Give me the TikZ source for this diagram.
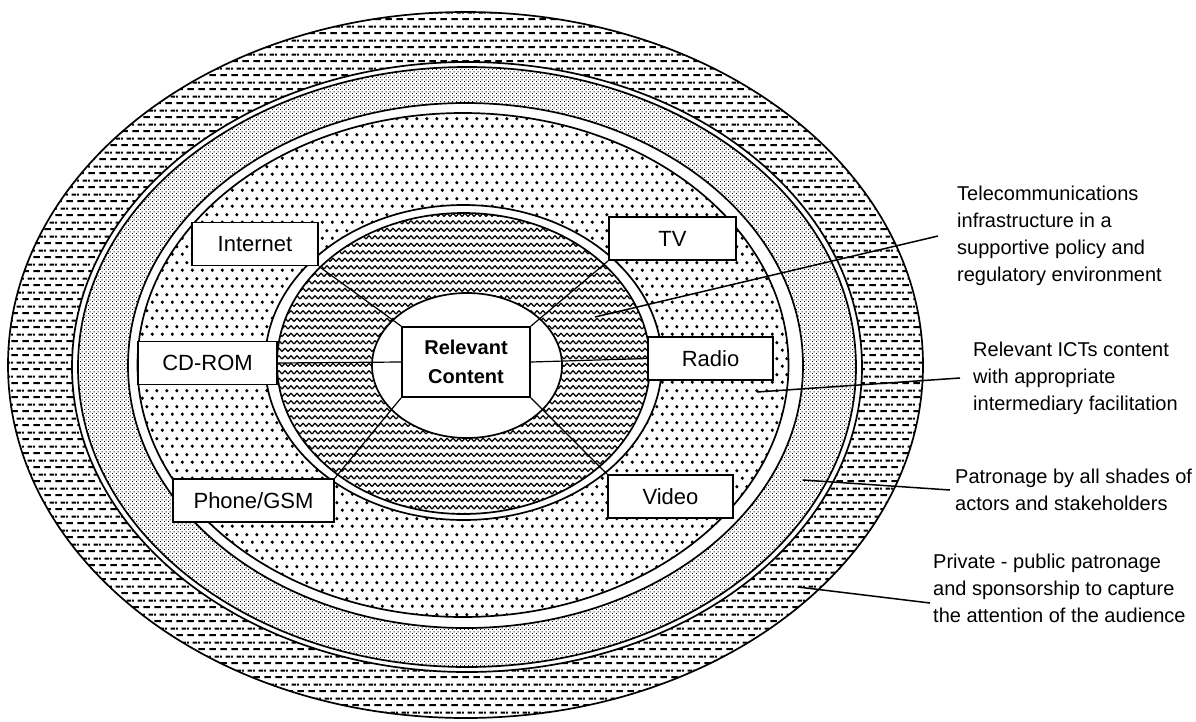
\documentclass[tikz,border=0pt]{standalone}
\usepackage{fontspec}
\setmainfont{Liberation Sans}
\usetikzlibrary{patterns}

\pgfdeclarepatternformonly{hdashpat}{\pgfqpoint{0pt}{0pt}}{\pgfqpoint{11pt}{14pt}}{\pgfqpoint{11pt}{14pt}}{%
  \pgfpathrectangle{\pgfqpoint{0.5pt}{2pt}}{\pgfqpoint{7pt}{2.2pt}}%
  \pgfpathrectangle{\pgfqpoint{6pt}{9pt}}{\pgfqpoint{5pt}{2.2pt}}%
  \pgfpathrectangle{\pgfqpoint{0pt}{9pt}}{\pgfqpoint{2pt}{2.2pt}}%
  \pgfusepath{fill}}

\pgfdeclarepatternformonly{wavepat}{\pgfqpoint{-0.7pt}{0pt}}{\pgfqpoint{6.7pt}{7.5pt}}{\pgfqpoint{6pt}{7.5pt}}{%
  \pgfsetlinewidth{1.25pt}\pgfsetroundjoin
  \pgfpathmoveto{\pgfqpoint{0pt}{2pt}}\pgfpathlineto{\pgfqpoint{3pt}{5.3pt}}\pgfpathlineto{\pgfqpoint{6pt}{2pt}}%
  \pgfusepath{stroke}}

\pgfdeclarepatternformonly{dotpat}{\pgfqpoint{0pt}{0pt}}{\pgfqpoint{10pt}{16pt}}{\pgfqpoint{10pt}{16pt}}{%
  \pgfpathcircle{\pgfqpoint{2.5pt}{4pt}}{1.9pt}%
  \pgfpathcircle{\pgfqpoint{7.5pt}{12pt}}{1.9pt}%
  \pgfusepath{fill}}

\pgfdeclarepatternformonly{meshpat}{\pgfqpoint{0pt}{0pt}}{\pgfqpoint{4pt}{4pt}}{\pgfqpoint{4pt}{4pt}}{%
  \pgfpathrectangle{\pgfqpoint{0pt}{0pt}}{\pgfqpoint{1.15pt}{1.15pt}}%
  \pgfpathrectangle{\pgfqpoint{2pt}{2pt}}{\pgfqpoint{1.15pt}{1.15pt}}%
  \pgfusepath{fill}}

\tikzset{
  ring/.style={draw, line width=1.7pt, preaction={fill=white}},
  medium/.style={draw, line width=1.8pt, fill=white, minimum height=43pt, inner sep=0pt,
    font=\fontsize{22}{26}\selectfont},
  spoke/.style={line width=1.2pt},
  leader/.style={line width=1.5pt},
  note/.style={anchor=west, align=left, inner sep=2pt, font=\fontsize{20}{27}\selectfont}
}

\begin{document}
\begin{tikzpicture}[x=1pt, y=-1pt]
\useasboundingbox (0,0) rectangle (1196,721);

% rings
\path[ring, pattern=hdashpat] (465.5,365) ellipse [x radius=457.5pt, y radius=353pt];
\path[ring] (467,367) ellipse [x radius=395pt, y radius=305pt];
\path[ring, pattern=meshpat] (467,367) ellipse [x radius=389pt, y radius=300pt];
\path[ring] (465.5,365.5) ellipse [x radius=337.5pt, y radius=262.5pt];
\path[ring, pattern=dotpat] (463,365) ellipse [x radius=325.5pt, y radius=252pt];
\path[ring] (463.5,362.5) ellipse [x radius=198.5pt, y radius=157.5pt];
\path[ring, pattern=wavepat] (463.5,363.5) ellipse [x radius=186.5pt, y radius=150.5pt];
\path[ring] (467,365.5) ellipse [x radius=95pt, y radius=72.5pt];

% centre and media boxes
\node[medium, minimum width=128pt, minimum height=70pt, align=center,
      font=\bfseries\fontsize{20}{29}\selectfont] (rc) at (466,362) {Relevant\\Content};
\node[medium, minimum width=126pt] (internet) at (255,244) {Internet};
\node[medium, minimum width=139pt] (cdrom) at (207.5,363) {CD-ROM};
\node[medium, minimum width=161pt] (phone) at (253.5,500.5) {Phone/GSM};
\node[medium, minimum width=127pt] (tv) at (672.5,238.5) {TV};
\node[medium, minimum width=125pt] (radio) at (710.5,358.5) {Radio};
\node[medium, minimum width=125pt] (video) at (670.5,496.5) {Video};

% spokes
\draw[spoke] (internet.south east) -- (rc.north west);
\draw[spoke] (cdrom.east) -- (rc.west);
\draw[spoke] (phone.north east) -- (rc.south west);
\draw[spoke] (tv.south west) -- (rc.north east);
\draw[spoke] (radio.west) -- (rc.east);
\draw[spoke] (video.north west) -- (rc.south east);

% notes
\node[note] (t1) at (955,236) {Telecommunications\\infrastructure in a\\supportive policy and\\regulatory environment};
\node[note] (t2) at (971,378) {Relevant ICTs content\\with appropriate\\intermediary facilitation};
\node[note] (t3) at (953,490) {Patronage by all shades of\\actors and stakeholders};
\node[note] (t4) at (931,588) {Private - public patronage\\and sponsorship to capture\\the attention of the audience};

\coordinate (p1) at (595,317);
\coordinate (p2) at (757,392);
\coordinate (p3) at (803,480);
\coordinate (p4) at (798,587);
\draw[leader] (p1) -- ([xshift=-17pt]t1.west);
\draw[leader] (p2) -- ([xshift=-11pt]t2.west);
\draw[leader] (p3) -- ([xshift=-3pt]t3.west);
\draw[leader] (p4) -- ([xshift=-1pt,yshift=-15pt]t4.west);
\end{tikzpicture}
\end{document}
